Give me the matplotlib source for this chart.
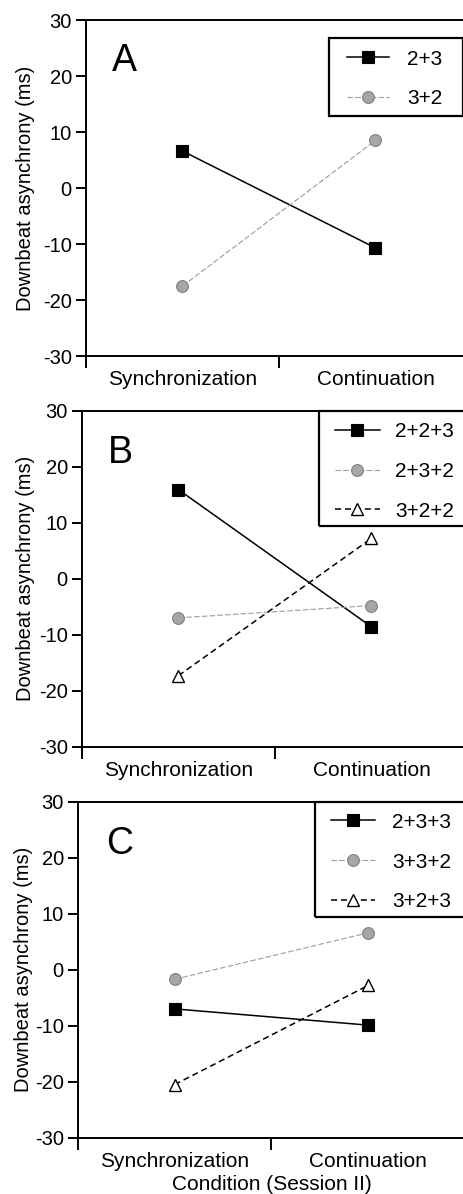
import numpy as np
import matplotlib
matplotlib.use('Agg')
import matplotlib.pyplot as plt
from matplotlib.patches import Rectangle

plt.rcParams['font.family'] = ['Liberation Sans', 'DejaVu Sans']

# ---------------- data ----------------
conditions = ['Synchronization', 'Continuation']
y_ticks = [-30, -20, -10, 0, 10, 20, 30]

panel_a_labels = ['2+3', '3+2']
panel_a_2_3 = [6.6, -10.7]
panel_a_3_2 = [-17.5, 8.5]

panel_b_labels = ['2+2+3', '2+3+2', '3+2+2']
panel_b_2_2_3 = [15.9, -8.6]
panel_b_2_3_2 = [-7.0, -4.8]
panel_b_3_2_2 = [-17.3, 7.2]

panel_c_labels = ['2+3+3', '3+3+2', '3+2+3']
panel_c_2_3_3 = [-7.0, -9.9]
panel_c_3_3_2 = [-1.7, 6.6]
panel_c_3_2_3 = [-20.5, -2.8]

x_label_c = 'Condition (Session II)'
y_label = 'Downbeat asynchrony (ms)'

# ---------------- styles ----------------
styles = {
    'sq': dict(color='black', lw=1.1, ls='-', marker='s', ms=9,
               mfc='black', mec='black', mew=0.8),
    'ci': dict(color='#9c9c9c', lw=0.8, ls=(0, (5, 2)), marker='o', ms=8.5,
               mfc='#a6a6a6', mec='#808080', mew=0.8),
    'tr': dict(color='black', lw=1.1, ls=(0, (4, 2.5)), marker='^', ms=8,
               mfc='white', mec='black', mew=1.0),
}

W, H = 464, 1194
fig = plt.figure(figsize=(W / 100, H / 100), dpi=100)


def px_axes(left, top, right, bottom):
    return fig.add_axes([left / W, 1 - bottom / H, (right - left) / W, (bottom - top) / H])


panels = [
    dict(box=(86, 20, 472, 356), letter='A', letter_xy=(0.067, 0.848),
         series=[(panel_a_2_3, panel_a_labels[0], 'sq'), (panel_a_3_2, panel_a_labels[1], 'ci')],
         leg_anchor=(0.676, 0.912), leg_hl=2.0, leg_tp=0.9, leg_ls=1.0,
         frame=(0.630, 0.714, 0.347, 0.232), ylab_x=-0.132, xlabel=None),
    dict(box=(82, 410.7, 468, 746.7), letter='B', letter_xy=(0.067, 0.843),
         series=[(panel_b_2_2_3, panel_b_labels[0], 'sq'), (panel_b_2_3_2, panel_b_labels[1], 'ci'),
                 (panel_b_3_2_2, panel_b_labels[2], 'tr')],
         leg_anchor=(0.655, 0.966), leg_hl=2.15, leg_tp=0.74, leg_ls=1.0,
         frame=(0.614, 0.657, 0.40, 0.342), ylab_x=-0.122, xlabel=None),
    dict(box=(78, 801.7, 465, 1137.7), letter='C', letter_xy=(0.072, 0.843),
         series=[(panel_c_2_3_3, panel_c_labels[0], 'sq'), (panel_c_3_3_2, panel_c_labels[1], 'ci'),
                 (panel_c_3_2_3, panel_c_labels[2], 'tr')],
         leg_anchor=(0.655, 0.967), leg_hl=2.1, leg_tp=0.82, leg_ls=1.0,
         frame=(0.612, 0.657, 0.40, 0.342), ylab_x=-0.116, xlabel=x_label_c),
]

xpos = np.arange(len(conditions)) + 0.5

for p in panels:
    ax = px_axes(*p['box'])
    handles = []
    for values, label, key in p['series']:
        h, = ax.plot(xpos, values, label=label, zorder=3, clip_on=False, **styles[key])
        handles.append(h)

    ax.set_xlim(0, len(conditions))
    ax.set_ylim(-30, 30)
    ax.set_yticks(y_ticks)
    ax.set_yticklabels([str(v) for v in y_ticks])
    ax.set_xticks(np.arange(len(conditions) + 1))
    ax.set_xticklabels([])
    ax.set_xticks(xpos, minor=True)
    ax.set_xticklabels(conditions, minor=True)

    ax.tick_params(axis='y', direction='out', length=7.2, width=1.4, pad=3, labelsize=14.5)
    ax.tick_params(axis='x', which='major', direction='out', length=8.6, width=1.4)
    ax.tick_params(axis='x', which='minor', length=0, pad=10, labelsize=15)

    for side in ['left', 'bottom', 'top']:
        ax.spines[side].set_linewidth(1.4)
    ax.spines['right'].set_visible(False)

    ax.set_ylabel(y_label, fontsize=14.5)
    ax.yaxis.set_label_coords(p['ylab_x'], 0.5)
    if p['xlabel']:
        ax.set_xlabel(p['xlabel'], fontsize=15, labelpad=3)

    ax.text(p['letter_xy'][0], p['letter_xy'][1], p['letter'], transform=ax.transAxes,
            fontsize=27, ha='left', va='baseline')

    leg = ax.legend(handles=handles, loc='upper left', bbox_to_anchor=p['leg_anchor'],
                    bbox_transform=ax.transAxes, frameon=False, borderpad=0,
                    borderaxespad=0, handlelength=p['leg_hl'], handletextpad=p['leg_tp'],
                    labelspacing=p['leg_ls'], fontsize=15)
    leg.set_zorder(6)
    fx, fy, fw, fh = p['frame']
    ax.add_patch(Rectangle((fx, fy), fw, fh, transform=ax.transAxes, fill=False,
                           lw=1.6, ec='black', clip_on=False, zorder=5))

fig.savefig('out.png', dpi=100)
